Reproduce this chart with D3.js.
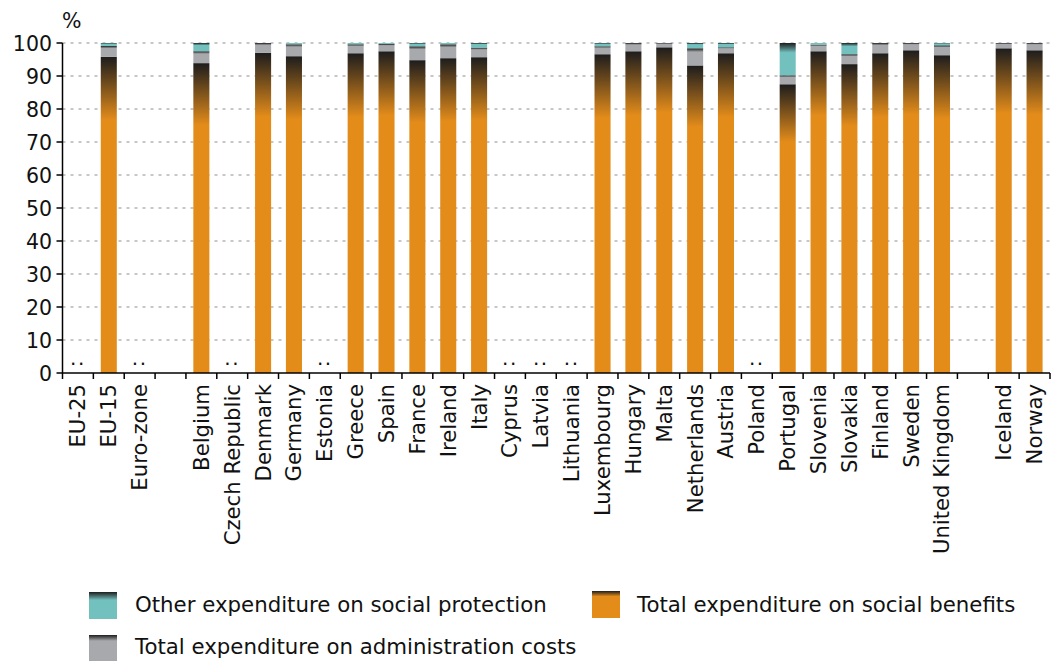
<!DOCTYPE html>
<html>
<head>
<meta charset="utf-8">
<script src="https://cdn.jsdelivr.net/npm/d3@7"></script>
<style>
  html, body { margin: 0; padding: 0; background: #fff; }
  svg { display: block; font-family: "DejaVu Sans", Verdana, sans-serif; }
</style>
</head>
<body>
<svg id="chart" width="1051" height="661"></svg>
<script>
// Structure of social protection expenditure, % of total
const categories = ["EU-25", "EU-15", "Euro-zone", "", "Belgium", "Czech Republic", "Denmark", "Germany",
  "Estonia", "Greece", "Spain", "France", "Ireland", "Italy", "Cyprus", "Latvia", "Lithuania",
  "Luxembourg", "Hungary", "Malta", "Netherlands", "Austria", "Poland", "Portugal", "Slovenia",
  "Slovakia", "Finland", "Sweden", "United Kingdom", "", "Iceland", "Norway"];

// null = not available (shown as ".."), blank categories are spacer slots
const socialBenefits = [null, 95.8, null, null, 93.9, null, 97.0, 96.0, null, 96.9, 97.5, 94.8, 95.4, 95.7,
  null, null, null, 96.6, 97.5, 98.7, 93.2, 96.9, null, 87.5, 97.5, 93.6, 96.9, 97.8, 96.3, null, 98.4, 97.8];
const adminCosts = [null, 3.3, null, null, 3.6, null, 3.0, 3.6, null, 2.7, 2.2, 4.2, 4.2, 2.9,
  null, null, null, 2.4, 2.5, 1.3, 5.2, 1.8, null, 2.7, 2.0, 3.0, 3.1, 2.2, 3.0, null, 1.6, 2.2];
const otherExpenditure = [null, 0.9, null, null, 2.5, null, 0.0, 0.4, null, 0.4, 0.3, 1.0, 0.4, 1.4,
  null, null, null, 1.0, 0.0, 0.0, 1.6, 1.3, null, 9.8, 0.5, 3.4, 0.0, 0.0, 0.7, null, 0.0, 0.0];

const yTicks = [0, 10, 20, 30, 40, 50, 60, 70, 80, 90, 100];

const seriesKeys = ["benefits", "admin", "other"];
const seriesInfo = {
  benefits: { label: "Total expenditure on social benefits", color: "#e38c1a", fade: 0.2 },
  admin:    { label: "Total expenditure on administration costs", color: "#a8a9ac", fade: 0.22 },
  other:    { label: "Other expenditure on social protection", color: "#72c1bf", fade: 0.3 }
};

const rows = categories.map((c, i) => ({
  id: i, name: c,
  missing: c !== "" && socialBenefits[i] === null,
  benefits: socialBenefits[i] || 0,
  admin: adminCosts[i] || 0,
  other: otherExpenditure[i] || 0
}));

const svg = d3.select("#chart");
const plotLeft = 62.5, plotRight = 1050, plotTop = 43, plotBottom = 373;

const x = d3.scaleBand().domain(rows.map(d => d.id)).range([plotLeft, plotRight])
  .paddingInner(0.48).paddingOuter(0.24);
const y = d3.scaleLinear().domain([0, 100]).range([plotBottom, plotTop]);

// vertical gradients: dark at the top of each segment fading into the series colour
const defs = svg.append("defs");
seriesKeys.forEach(k => {
  const g = defs.append("linearGradient").attr("id", "grad-" + k)
    .attr("x1", 0).attr("y1", 0).attr("x2", 0).attr("y2", 1);
  g.append("stop").attr("offset", 0).attr("stop-color", "#1d1d1d");
  g.append("stop").attr("offset", seriesInfo[k].fade).attr("stop-color", seriesInfo[k].color);
  g.append("stop").attr("offset", 1).attr("stop-color", seriesInfo[k].color);
});

// gridlines
svg.append("g").selectAll("line").data(yTicks.filter(t => t > 0)).join("line")
  .attr("x1", plotLeft).attr("x2", plotRight)
  .attr("y1", d => y(d)).attr("y2", d => y(d))
  .attr("stroke", "#b5b5b5").attr("stroke-width", 1.5).attr("stroke-dasharray", "3,5");

// stacked bars
const stacked = d3.stack().keys(seriesKeys)(rows);
const barG = svg.append("g");
stacked.forEach(layer => {
  barG.append("g").attr("fill", "url(#grad-" + layer.key + ")")
    .selectAll("rect").data(layer.filter(d => d[1] - d[0] > 0)).join("rect")
    .attr("x", d => x(d.data.id))
    .attr("width", x.bandwidth())
    .attr("y", d => y(d[1]))
    .attr("height", d => y(d[0]) - y(d[1]));
});

// not-available markers
svg.append("g").selectAll("text").data(rows.filter(d => d.missing)).join("text")
  .attr("x", d => x(d.id) + x.bandwidth() / 2).attr("y", 365)
  .attr("text-anchor", "middle").attr("font-size", 20).attr("letter-spacing", 1.5)
  .attr("fill", "#111")
  .text("..");

// y axis
const yAxis = svg.append("g");
yAxis.append("line").attr("x1", plotLeft).attr("x2", plotLeft).attr("y1", plotTop).attr("y2", plotBottom)
  .attr("stroke", "#000").attr("stroke-width", 1.5);
yAxis.selectAll(".tk").data(yTicks).join("line").attr("class", "tk")
  .attr("x1", plotLeft - 6).attr("x2", plotLeft).attr("y1", d => y(d)).attr("y2", d => y(d))
  .attr("stroke", "#000").attr("stroke-width", 1.5);
yAxis.selectAll(".lb").data(yTicks).join("text").attr("class", "lb")
  .attr("x", 52).attr("y", d => y(d) + 7.5)
  .attr("text-anchor", "end").attr("font-size", 20.5).attr("fill", "#111")
  .text(d => d);
svg.append("text").attr("x", 62).attr("y", 28)
  .attr("font-size", 20.5).attr("fill", "#111").text("%");

// x axis
const step = x.step();
const bounds = rows.map(d => x(d.id) - step * x.paddingInner() / 2).concat([plotRight]);
const xAxis = svg.append("g");
xAxis.append("line").attr("x1", plotLeft).attr("x2", plotRight).attr("y1", plotBottom).attr("y2", plotBottom)
  .attr("stroke", "#000").attr("stroke-width", 1.5);
xAxis.selectAll(".tk").data(bounds).join("line").attr("class", "tk")
  .attr("x1", d => d).attr("x2", d => d).attr("y1", plotBottom).attr("y2", plotBottom + 6)
  .attr("stroke", "#000").attr("stroke-width", 1.5);
xAxis.selectAll(".lb").data(rows.filter(d => d.name !== "")).join("text").attr("class", "lb")
  .attr("transform", d => `translate(${x(d.id) + x.bandwidth() / 2},384) rotate(-90)`)
  .attr("text-anchor", "end").attr("dominant-baseline", "central")
  .attr("font-size", 21.2).attr("fill", "#111")
  .text(d => d.name);

// legend
const legendItems = [
  { key: "other", x: 89, y: 592, tx: 135, ty: 611.5 },
  { key: "benefits", x: 592, y: 591, tx: 637, ty: 611.5 },
  { key: "admin", x: 89, y: 635, tx: 135, ty: 654 }
];
const lg = svg.append("g").selectAll("g").data(legendItems).join("g");
lg.append("rect").attr("x", d => d.x).attr("y", d => d.y).attr("width", 28).attr("height", 27)
  .attr("fill", d => "url(#grad-" + d.key + ")");
lg.append("text").attr("x", d => d.tx).attr("y", d => d.ty)
  .attr("font-size", 21.3).attr("fill", "#111")
  .text(d => seriesInfo[d.key].label);
</script>
</body>
</html>
